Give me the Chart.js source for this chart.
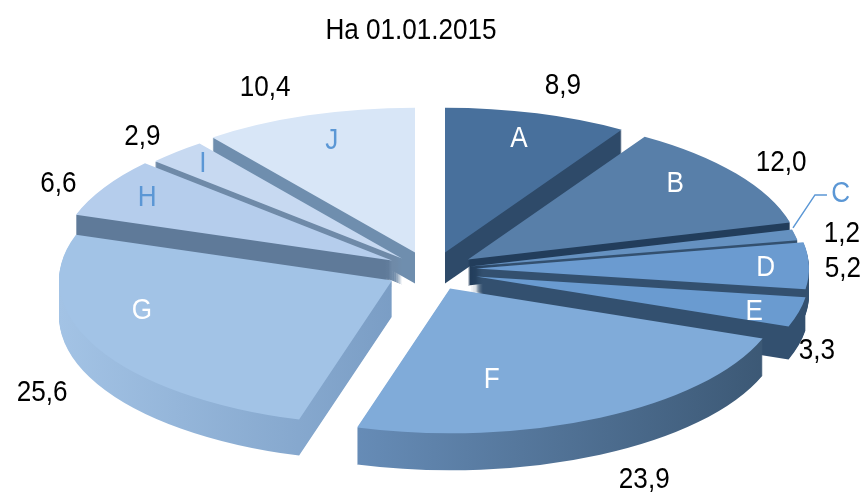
<!DOCTYPE html>
<html>
<head>
<meta charset="utf-8">
<title>На 01.01.2015</title>
<script src="https://cdn.jsdelivr.net/npm/chart.js@4/dist/chart.umd.min.js"></script>
<style>
  html, body { margin: 0; padding: 0; background: #fff; }
  #wrap { width: 866px; height: 492px; }
</style>
</head>
<body>
<div id="wrap"><canvas id="chart" width="866" height="492"></canvas></div>
<script>
/* ── Data ─────────────────────────────────────────────────────────────── */

const categories = ['A', 'B', 'C', 'D', 'E', 'F', 'G', 'H', 'I', 'J'];
const shares     = [8.9, 12.0, 1.2, 5.2, 3.3, 23.9, 25.6, 6.6, 2.9, 10.4];
const shareText  = ['8,9', '12,0', '1,2', '5,2', '3,3', '23,9', '25,6', '6,6', '2,9', '10,4'];
const chartTitle = 'На 01.01.2015';

/* ── Look ─────────────────────────────────────────────────────────────── */

const topColors  = ['#48709c', '#587fa9', '#6591c0', '#6b9bd0', '#6a9bd0', '#80abd9', '#a2c3e6', '#b5cdec', '#c7d9f1', '#d8e6f7'];
const wallLeft   = ['#2e4a69', '#223d5b', '#33506f', '#33506f', '#33506f', '#7faadd', '#a3c3e5', '#5f7a99', '#6f8aa8', '#6f8eae'];
const wallRight  = ['#2e4a69', '#223d5b', '#33506f', '#33506f', '#33506f', '#3a5672', '#5278a5', '#5f7a99', '#6f8aa8', '#6f8eae'];
const letterColors = ['#fff', '#fff', '#5b97d5', '#fff', '#fff', '#fff', '#fff', '#5b97d5', '#5b97d5', '#5b97d5'];

// each slice is pulled out on its own, px from the middle of the chart area
const shiftX = [34, 57, 59, 65, 65, 39, -19, -19, -9, 4];
const shiftY = [-21, -14, -7, -5, 3, 15, 7, -13, -15, -21];
const depth  = [31, 26, 26, 26, 33, 37, 36, 26, 26, 31];
const paintOrder = [0, 9, 8, 7, 1, 2, 3, 4, 6, 5];

// nudges from the slice's rim (value) and 3/4 radius (letter)
const valueNudge  = [[26, -28], [45, -11], [47, -1], [34, 3], [18, 39], [44, 62], [-55, 45], [-46, -4], [-34, -15], [-43, -28]];
const letterNudge = [[5, -9], [6, -11], [127, -49], [40, 1], [36, 9], [-71, -6], [-29, -20], [-29, -8], [-30, -15], [-3, -9]];

const SQUASH = 0.435;
const RADIUS = 333;
const FONT   = '"Liberation Sans", sans-serif';
const NARROW = 0.87;   // the reference type is a condensed grotesque

/* ── Helpers ──────────────────────────────────────────────────────────── */

function rimPoint(arc, i, frac) {
  const mid = (arc.startAngle + arc.endAngle) / 2;
  return {
    x: arc.x + shiftX[i] + Math.cos(mid) * arc.outerRadius * frac,
    y: arc.y + shiftY[i] + Math.sin(mid) * arc.outerRadius * frac * SQUASH
  };
}

function narrowText(ctx, text, x, y) {
  ctx.save();
  ctx.translate(x, y);
  ctx.scale(NARROW, 1);
  ctx.fillText(text, 0, 0);
  ctx.restore();
}

/* ── Tilted pie: every arc is drawn by the library, under its own transform ── */

const tiltPlugin = {
  id: 'tilt',
  beforeDatasetsDraw(chart) {
    const ctx  = chart.ctx;
    const arcs = chart.getDatasetMeta(0).data;

    paintOrder.forEach(function (i) {
      const arc  = arcs[i];
      const base = arc.options;
      const wall = ctx.createLinearGradient(arc.x - arc.outerRadius, 0, arc.x + arc.outerRadius, 0);
      wall.addColorStop(0, wallLeft[i]);
      wall.addColorStop(1, wallRight[i]);

      function paint(dy, fill) {
        ctx.save();
        ctx.translate(arc.x + shiftX[i], arc.y + shiftY[i] + dy);
        ctx.scale(1, SQUASH);
        ctx.translate(-arc.x, -arc.y);
        arc.options = Object.assign({}, base, { backgroundColor: fill });
        arc.draw(ctx);
        ctx.restore();
      }

      for (let d = depth[i]; d > 0; d--) paint(d, wall);
      paint(0, topColors[i]);
      arc.options = base;
    });
    return false;   // arcs are done, skip the flat pie
  },
  // afterDatasetsDraw does not fire once the hook above cancels, so text goes here
  afterDraw(chart) {
    const ctx  = chart.ctx;
    const arcs = chart.getDatasetMeta(0).data;

    ctx.save();
    ctx.textAlign = 'center';
    ctx.textBaseline = 'middle';
    ctx.font = '30px ' + FONT;
    ctx.fillStyle = '#000';
    narrowText(ctx, chartTitle, chart.chartArea.left + chart.chartArea.width / 2, 31);

    // leader line for C
    const c = rimPoint(arcs[2], 2, 1);
    ctx.strokeStyle = '#5b97d5';
    ctx.lineWidth = 1.5;
    ctx.beginPath();
    ctx.moveTo(c.x - 2, c.y - 7);
    ctx.lineTo(c.x + 20, c.y - 40);
    ctx.lineTo(c.x + 32, c.y - 40);
    ctx.stroke();

    arcs.forEach(function (arc, i) {
      const rim = rimPoint(arc, i, 1);
      const in3 = rimPoint(arc, i, 0.75);
      ctx.fillStyle = '#000';
      narrowText(ctx, shareText[i], rim.x + valueNudge[i][0], rim.y + valueNudge[i][1]);
      ctx.fillStyle = letterColors[i];
      narrowText(ctx, categories[i], in3.x + letterNudge[i][0], in3.y + letterNudge[i][1]);
    });
    ctx.restore();
  }
};

new Chart(document.getElementById('chart'), {
  type: 'pie',
  data: {
    labels: categories,
    datasets: [{
      data: shares,
      backgroundColor: topColors,
      borderWidth: 0
    }]
  },
  options: {
    responsive: false,
    animation: false,
    radius: RADIUS,
    layout: { padding: { top: 55, right: 44 } },
    plugins: {
      legend: { display: false },
      tooltip: { enabled: false }
    }
  },
  plugins: [tiltPlugin]
});
</script>
</body>
</html>
